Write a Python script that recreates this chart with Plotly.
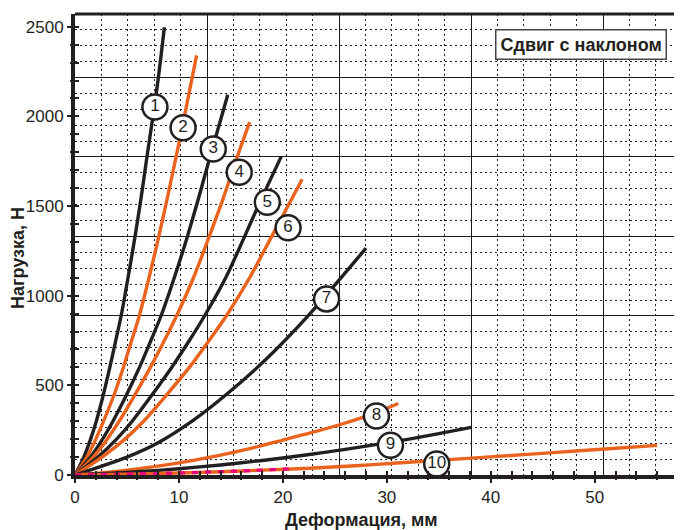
import plotly.graph_objects as go

# ---------------- data ----------------
c1_y = [0, 100, 200, 300, 446, 600, 750, 891, 1100, 1328, 1550, 1773, 2000, 2216, 2497]
c1_x = [0, 0.85, 1.5, 2.05, 2.72, 3.35, 3.92, 4.45, 5.1, 5.77, 6.37, 6.92, 7.5, 8.02, 8.6]
c2_y = [0, 100, 200, 300, 446, 600, 750, 891, 1100, 1328, 1550, 1773, 2050, 2340]
c2_x = [0, 1.15, 2.0, 2.75, 3.75, 4.65, 5.45, 6.2, 7.12, 8.05, 8.9, 9.72, 10.7, 11.7]
c3_y = [0, 100, 200, 300, 446, 600, 750, 891, 1100, 1328, 1550, 1773, 2121]
c3_x = [0, 1.5, 2.65, 3.65, 4.95, 6.2, 7.3, 8.3, 9.55, 10.8, 11.92, 12.98, 14.7]
c4_y = [0, 100, 200, 300, 446, 600, 750, 891, 1100, 1328, 1550, 1773, 1968]
c4_x = [0, 1.75, 3.1, 4.25, 5.75, 7.25, 8.6, 9.8, 11.4, 12.9, 14.3, 15.6, 16.8]
c5_y = [0, 100, 200, 300, 446, 600, 750, 891, 1100, 1328, 1523, 1777]
c5_x = [0, 2.2, 4.0, 5.5, 7.4, 9.3, 11.0, 12.5, 14.5, 16.3, 17.8, 19.85]
c6_y = [0, 100, 200, 300, 446, 600, 750, 891, 1100, 1328, 1649]
c6_x = [0, 2.6, 4.8, 6.6, 8.8, 11.0, 12.9, 14.6, 16.8, 18.9, 21.86]
c7_y = [0, 100, 180, 306, 446, 641, 886, 1080, 1265]
c7_x = [0, 5.0, 8.0, 11.4, 14.5, 18.3, 22.4, 25.3, 28.0]
c8_x = [0, 3, 6, 10, 14, 17, 20, 23, 26, 29, 31.1]
c8_y = [0, 14, 34, 68, 111, 150, 195, 240, 290, 348, 399]
c9_x = [0, 4, 8, 12, 16, 20, 24, 28, 32, 35, 38.1]
c9_y = [0, 11, 26, 45, 68, 95, 126, 161, 199, 231, 266]
c10_x = [0, 5, 10, 14, 18, 22.6, 27, 31, 36, 41, 46, 51, 56]
c10_y = [0, 5, 11, 18, 27, 38, 52, 67, 86, 105, 125, 145, 165]
pink_x = [0, 4, 8, 12, 16, 21]
pink_y = [0, 4, 9, 15, 23, 35]

curve_names = ["1", "2", "3", "4", "5", "6", "7", "8", "9", "10"]
label_x = [7.69, 10.4, 13.3, 15.8, 18.5, 20.5, 24.2, 29.0, 30.35, 34.8]
label_y = [2052, 1937, 1818, 1688, 1521, 1379, 982, 329, 166, 61]

x_ticks_step = 10
y_ticks_step = 500

BLACK = "#231f20"
ORANGE = "#e9631e"
PINK = "#e6007e"
FONT = "Liberation Sans, Arial, sans-serif"

XR = [0, 58.3]
YR = [0, 2571]

curves = [
    (c1_x, c1_y, BLACK), (c2_x, c2_y, ORANGE), (c3_x, c3_y, BLACK),
    (c4_x, c4_y, ORANGE), (c5_x, c5_y, BLACK), (c6_x, c6_y, ORANGE),
    (c7_x, c7_y, BLACK), (c8_x, c8_y, ORANGE), (c9_x, c9_y, BLACK),
    (c10_x, c10_y, ORANGE),
]

fig = go.Figure()
for (xs, ys, col), nm in zip(curves, curve_names):
    fig.add_trace(go.Scatter(x=xs, y=ys, mode="lines", name=nm,
                             line=dict(color=col, width=3.4, shape="spline", smoothing=0.8),
                             showlegend=False, hoverinfo="skip"))
fig.add_trace(go.Scatter(x=pink_x, y=pink_y, mode="lines",
                         line=dict(color=PINK, width=3.2, dash="6px,7px", shape="spline"),
                         showlegend=False, hoverinfo="skip"))
fig.add_trace(go.Scatter(x=label_x, y=label_y, mode="markers+text", text=curve_names,
                         textposition="middle center",
                         textfont=dict(family=FONT, size=17, color=BLACK),
                         marker=dict(size=25, color="white", line=dict(color=BLACK, width=2.5)),
                         showlegend=False, hoverinfo="skip", cliponaxis=False))
# carriers for the overlay tick axes
for ax in ("2", "3"):
    fig.add_trace(go.Scatter(x=[0], y=[0], xaxis="x" + ax, yaxis="y" + ax, mode="markers",
                             marker=dict(opacity=0), showlegend=False, hoverinfo="skip"))

grid_minor = dict(showgrid=True, gridcolor=BLACK, griddash="2px,3px", gridwidth=1)
# the page body has an 8px margin: the figure is sized/offset to compensate
fig.update_layout(
    width=674, height=522,
    margin=dict(l=67, r=1, t=6, b=55),
    paper_bgcolor="white", plot_bgcolor="white",
    font=dict(family=FONT, color=BLACK),
    xaxis=dict(range=XR, showline=True, linewidth=4, linecolor=BLACK,
               showticklabels=False, ticks="", zeroline=False,
               showgrid=True, tick0=0, dtick=12.7, gridcolor="#1a1a1a", gridwidth=1.4,
               minor=dict(dtick=2.54, **grid_minor)),
    yaxis=dict(range=YR, showline=True, linewidth=4, linecolor=BLACK,
               showticklabels=False, ticks="", zeroline=False,
               showgrid=True, tick0=0, dtick=443.5, gridcolor="#1a1a1a", gridwidth=1.4,
               minor=dict(dtick=88.7, **grid_minor)),
    xaxis2=dict(overlaying="x", anchor="y2", side="bottom", range=XR, showgrid=False,
                zeroline=False, showline=False, tick0=0, dtick=x_ticks_step,
                ticks="outside", ticklen=7, tickwidth=2, tickcolor=BLACK,
                tickfont=dict(size=17, color=BLACK),
                minor=dict(dtick=2, ticks="outside", ticklen=4, tickwidth=2, tickcolor=BLACK)),
    yaxis2=dict(overlaying="y", anchor="x2", side="left", range=YR, showgrid=False,
                zeroline=False, showline=False, tick0=0, dtick=y_ticks_step,
                ticks="outside", ticklen=7, tickwidth=2, tickcolor=BLACK,
                tickfont=dict(size=17, color=BLACK),
                minor=dict(dtick=100, ticks="outside", ticklen=4, tickwidth=2, tickcolor=BLACK)),
    xaxis3=dict(overlaying="x", anchor="y3", side="bottom", range=XR, showgrid=False,
                zeroline=False, showline=False, showticklabels=False, tick0=0, dtick=2,
                ticks="inside", ticklen=4, tickwidth=2, tickcolor=BLACK),
    yaxis3=dict(overlaying="y", anchor="x3", side="left", range=YR, showgrid=False,
                zeroline=False, showline=False, showticklabels=False, tick0=0, dtick=100,
                ticks="inside", ticklen=4, tickwidth=2, tickcolor=BLACK),
    shapes=[
        dict(type="line", xref="paper", yref="paper", x0=0, x1=1, y0=1, y1=1,
             line=dict(color=BLACK, width=3)),
        dict(type="line", xref="paper", yref="paper", x0=1, x1=1, y0=0, y1=1,
             line=dict(color="#555555", width=1.5)),
    ],
    annotations=[
        dict(text="<b>Деформация, мм</b>", xref="paper", yref="paper",
             x=0.4728, y=-0.098, xanchor="center", yanchor="middle", showarrow=False,
             font=dict(size=18, color=BLACK)),
        dict(text="<b>Нагрузка, Н</b>", xref="paper", yref="paper", textangle=-90,
             x=-0.094, y=0.4707, xanchor="center", yanchor="middle", showarrow=False,
             font=dict(size=18, color=BLACK)),
        dict(text="<b>Сдвиг с наклоном</b>", xref="x", yref="y", x=48.7, y=2401,
             xanchor="center", yanchor="middle", showarrow=False,
             font=dict(size=18, color=BLACK), bgcolor="white",
             bordercolor="#444444", borderwidth=1.5, borderpad=4),
    ],
)

fig.write_html("out.html")
